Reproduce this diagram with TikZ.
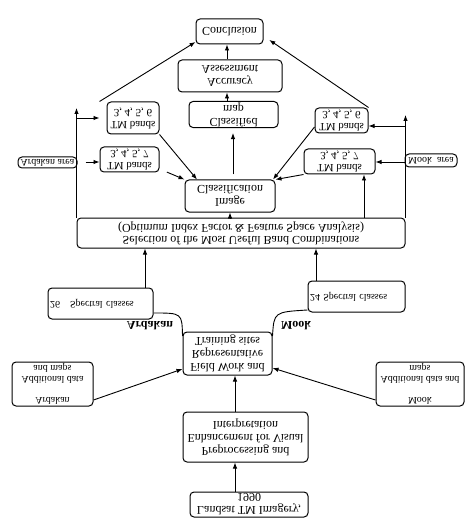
\documentclass[tikz,border=0pt]{standalone}
\usepackage{fontspec}
\setmainfont{Liberation Serif}
\usetikzlibrary{arrows.meta}
\tikzset{
    box/.style = {draw, rounded corners = 4pt, line width = 1pt, align = center, inner sep = 1pt, font = \fontsize{12}{13}\selectfont},
    smallbox/.style = {box, font = \fontsize{10}{11}\selectfont},
    tmbox/.style = {box, font = \fontsize{11}{12}\selectfont},
    lbl/.style = {font = \fontsize{12}{13}\selectfont\bfseries},
    arr/.style = {-{Latex[length = 6pt, width = 4.5pt]}}
}
\begin{document}
\begin{tikzpicture}[x = 1pt, y = 1pt, yscale = -1, line width = 0.9pt, every node/.append style = {transform shape}]
                \useasboundingbox (0,0) rectangle (474,521);
                \node[box, minimum width = 118pt, minimum height = 25pt] (landsat) at (249,504.5) {Landsat TM Imagery,\\1990};
                \node[box, minimum width = 125pt, minimum height = 50pt] (prep) at (245.5,437) {Preprocessing and\\Enhancement for Visual\\Interpretation};
                \node[box, minimum width = 89pt, minimum height = 43pt] (field) at (227.5,353.5) {Field Work and\\Representative\\Training sites};
                \node[smallbox, minimum width = 81pt, minimum height = 44pt] (addA) at (52.5,384) {Ardakan\\[10pt]Additional data\\and maps};
                \node[smallbox, minimum width = 88pt, minimum height = 44pt] (addM) at (420,384) {Mook\\[10pt]Additional data and\\maps};
                \node[smallbox, align = left, inner sep = 2pt, text width = 101pt, minimum height = 31pt] (s26) at (100.5,303.5) {26\quad Spectral classes};
                \node[smallbox, align = left, inner sep = 2pt, text width = 93pt, minimum height = 31pt] (s24) at (356.5,296.5) {24 Spectral classes};
                \node[lbl] (ardLabel) at (150,326) {Ardakan};
                \node[lbl] (mookLabel) at (296,326) {Mook};
                \node[box, minimum width = 328pt, minimum height = 30pt, font = \fontsize{12}{12}\selectfont] (sel) at (241,233) {Selection of the Most Useful Band Combinations\\(Optimum Index Factor \& Feature Space Analysis)};
                \node[box, minimum width = 90pt, minimum height = 32pt] (clsimg) at (230,196) {Image\\Classification};
                \node[box, minimum width = 89pt, minimum height = 25pt] (clsmap) at (233.5,114.5) {Classified\\map};
                \node[box, minimum width = 104pt, minimum height = 32pt] (acc) at (230,76) {Accuracy\\Assessment};
                \node[box, minimum width = 67pt, minimum height = 25pt] (concl) at (229.5,31.5) {Conclusion};
                \begin{scope}[every node/.append style = {tmbox}]
                    \node[minimum width = 52pt, minimum height = 32pt] (tmL6) at (133,118) {TM bands\\3, 4, 5, 6};
                    \node[minimum width = 59pt, minimum height = 25pt] (tmL7) at (129.5,159.5) {TM bands\\3, 4, 5, 7};
                    \node[minimum width = 53pt, minimum height = 25pt] (tmR6) at (341.5,120.5) {TM bands\\3, 4, 5, 6};
                    \node[minimum width = 71pt, minimum height = 25pt] (tmR7) at (339.5,161.5) {TM bands\\3, 4, 5, 7};
                \end{scope}
                \node[smallbox, minimum width = 59pt, minimum height = 11pt] (ardArea) at (47.5,162.5) {Ardakan area};
                \node[smallbox, minimum width = 52pt, minimum height = 13pt] (mookArea) at (431,160.5) {Mook\ \ area};
                \coordinate (lowAxis) at (235,0);
                \coordinate (midAxis) at (233,0);
                \coordinate (topAxis) at (227,0);
                \draw[arr] (landsat.south -| lowAxis) -- (prep.north -| lowAxis);
                \draw[arr] (prep.south -| lowAxis) -- (field.north -| lowAxis);
                \draw[arr] (addA.east |- 0,400) -- (field.west |- 0,369);
                \draw[arr] (addM.west |- 0,400) -- (field.east |- 0,368);
                \draw (field.west |- 0,336) .. controls (182,313) .. (s26.east |- 0,313);
                \draw (field.east |- 0,336) .. controls (274,312) .. (s24.west |- 0,310);
                \draw[arr] (s26.south -| 145,0) -- (sel.north -| 145,0);
                \draw[arr] (s24.south -| 316,0) -- (sel.north -| 316,0);
                \draw[arr] (sel.south -| clsimg) -- (clsimg.north);
                \draw[arr] (sel.south -| 364,0) -- (tmR7.north -| 364,0);
                \draw[arr] (sel.south west) -- (sel.south west |- 0,108);
                \draw[arr, shorten >= 7pt] (sel.south west |- tmL6) -- (tmL6.west);
                \draw[arr, shorten <= 8pt] (ardArea.east |- 0,162) -- (tmL7.west |- 0,162);
                \draw[arr] (sel.south east) -- (sel.south east |- 0,115);
                \draw[arr] (sel.south east |- 0,126) -- (tmR6.east |- 0,126);
                \draw[arr] (mookArea.west |- 0,162) -- (tmR7.east |- 0,162);
                \draw[arr] (tmL6.north east) -- (197,0 |- clsimg.south);
                \draw[arr, shorten <= 8pt] (tmL7.east |- 0,169) -- (clsimg.south west);
                \draw[arr] (tmR6.west |- 0,127) -- (273,0 |- clsimg.south);
                \draw[arr] (tmR7.north west) -- (clsimg.south east);
                \draw[arr, shorten <= 5pt, shorten >= 5pt] (clsimg.south -| midAxis) -- (clsmap.north -| midAxis);
                \draw[arr] (clsmap.south -| topAxis) -- (acc.north -| topAxis);
                \draw[arr] (acc.south -| topAxis) -- (concl.north -| topAxis);
                \draw[arr] ([xshift = -7pt]tmL6.south west) -- (concl.west |- 0,42);
                \draw[arr, shorten >= 7pt] (tmR6.south east) -- (concl.east |- 0,36);
            \end{tikzpicture}
\end{document}
